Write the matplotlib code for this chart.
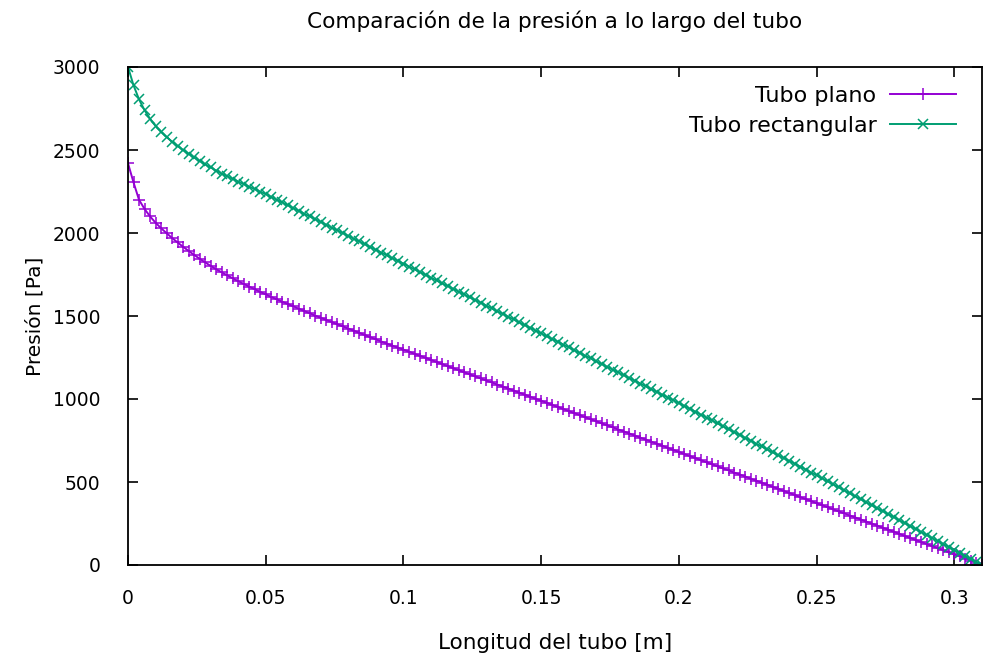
import matplotlib
matplotlib.use("Agg")
import matplotlib.pyplot as plt
import numpy as np

# Presion a lo largo del tubo, muestreada cada 2 mm (0 .. 0.31 m)
paso = 0.002

presion_plano = [
    2420, 2305, 2200, 2145, 2100, 2062, 2029, 1999, 1970, 1943,
    1917, 1892, 1868, 1845, 1823, 1802, 1782, 1763, 1745, 1727,
    1710, 1693, 1677, 1661, 1645, 1630, 1615, 1600, 1586, 1572,
    1558, 1544, 1530, 1516, 1502, 1489, 1476, 1463, 1450, 1437,
    1424, 1411, 1398, 1385, 1372, 1359, 1346, 1333, 1321, 1309,
    1297, 1285, 1272, 1260, 1248, 1235, 1223, 1211, 1198, 1186,
    1174, 1161, 1149, 1137, 1124, 1112, 1100, 1087, 1075, 1063,
    1050, 1038, 1026, 1013, 1001, 989, 977, 964, 952, 940,
    927, 915, 903, 890, 878, 866, 853, 841, 829, 816,
    804, 792, 779, 767, 755, 742, 730, 718, 705, 693,
    681, 668, 656, 644, 631, 619, 607, 594, 582, 570,
    557, 545, 533, 520, 508, 496, 483, 471, 459, 446,
    434, 422, 409, 397, 385, 372, 360, 348, 335, 323,
    311, 298, 286, 274, 261, 249, 237, 224, 212, 200,
    187, 175, 163, 150, 138, 126, 113, 101, 89, 76,
    64, 52, 39, 27, 15, 0,
]

presion_rect = [
    3000, 2890, 2805, 2740, 2688, 2645, 2610, 2578, 2550, 2524,
    2500, 2477, 2455, 2434, 2414, 2395, 2376, 2358, 2342, 2326,
    2310, 2294, 2279, 2264, 2249, 2234, 2217, 2200, 2184, 2167,
    2150, 2133, 2116, 2100, 2083, 2066, 2049, 2032, 2016, 1999,
    1982, 1965, 1949, 1932, 1915, 1898, 1882, 1865, 1848, 1832,
    1815, 1798, 1781, 1765, 1748, 1731, 1714, 1697, 1681, 1664,
    1647, 1630, 1613, 1597, 1580, 1563, 1546, 1529, 1513, 1496,
    1479, 1462, 1445, 1429, 1412, 1395, 1378, 1361, 1345, 1328,
    1311, 1294, 1277, 1261, 1244, 1227, 1210, 1193, 1177, 1160,
    1143, 1126, 1109, 1093, 1076, 1059, 1042, 1025, 1009, 992,
    975, 958, 940, 923, 905, 888, 871, 853, 836, 818,
    801, 784, 766, 749, 731, 714, 697, 679, 662, 644,
    627, 610, 592, 575, 557, 540, 522, 504, 486, 468,
    450, 432, 414, 396, 378, 360, 342, 324, 306, 288,
    270, 252, 234, 216, 198, 180, 162, 144, 126, 108,
    90, 72, 54, 36, 18, 0,
]

x_ticks = [0, 0.05, 0.1, 0.15, 0.2, 0.25, 0.3]
x_labels = ["0", "0.05", "0.1", "0.15", "0.2", "0.25", "0.3"]
y_ticks = [0, 500, 1000, 1500, 2000, 2500, 3000]

x_plano = np.arange(len(presion_plano)) * paso
x_rect = np.arange(len(presion_rect)) * paso

plt.rcParams['font.family'] = ['DejaVu Sans']
plt.rcParams['font.size'] = 13

fig = plt.figure(figsize=(9.86, 6.6), dpi=100)
ax = fig.add_axes([128 / 986, 95 / 660, 854 / 986, 498 / 660])

ax.plot(x_plano, presion_plano, color='#9400d3', lw=1.4, marker='+',
        markersize=8, markeredgewidth=1.1, label='Tubo plano')
ax.plot(x_rect, presion_rect, color='#009e73', lw=1.4, marker='x',
        markersize=6.5, markeredgewidth=1.1, label='Tubo rectangular')

ax.set_xlim(0, 0.31)
ax.set_ylim(0, 3000)
ax.set_xticks(x_ticks)
ax.set_xticklabels(x_labels)
ax.set_yticks(y_ticks)

ax.tick_params(direction='in', length=7, width=1.2, top=True, right=True,
               labelsize=13.5)
ax.tick_params(axis='x', pad=17)
ax.tick_params(axis='y', pad=20)
for s in ax.spines.values():
    s.set_linewidth(1.3)

ax.set_title("Comparación de la presión a lo largo del tubo", pad=28)
ax.set_xlabel("Longitud del tubo [m]", fontsize=15.5, labelpad=18)
ax.set_ylabel("Presión [Pa]", fontsize=14.5, labelpad=6)

# leyenda arriba a la derecha, texto antes de la muestra
ax.legend(loc='upper right', bbox_to_anchor=(1.0, 1.013), frameon=False,
          markerfirst=False, numpoints=1, handlelength=3.0,
          borderaxespad=0.75, labelspacing=0.45, fontsize=16,
          handletextpad=0.6)

fig.savefig("out.png", dpi=100)
